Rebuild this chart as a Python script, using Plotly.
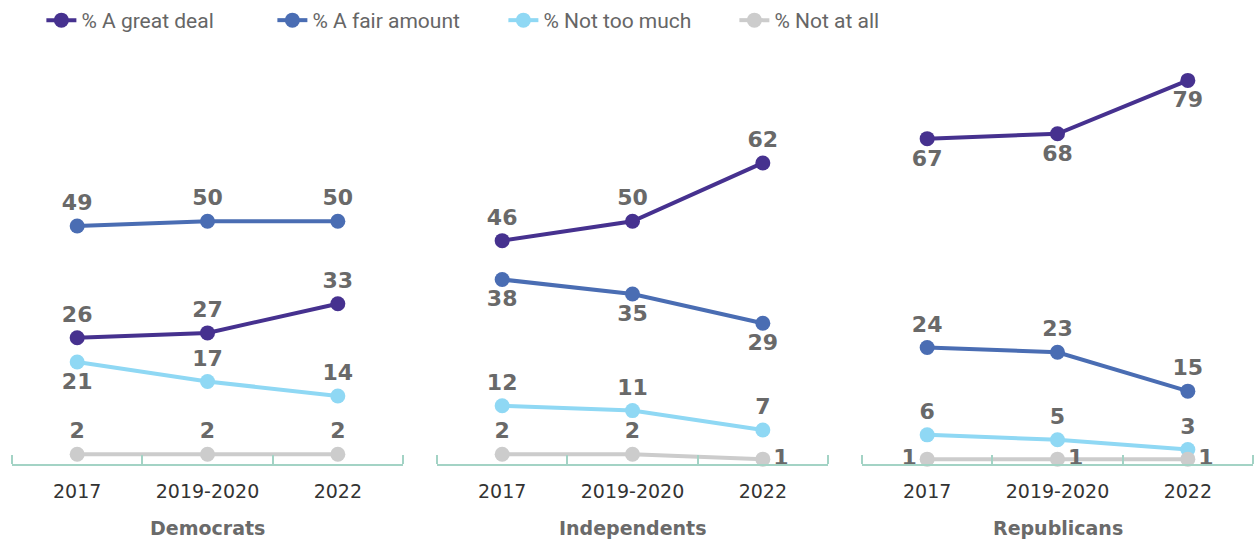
import plotly.graph_objects as go

years = ["2017", "2019-2020", "2022"]
parties = ["Democrats", "Independents", "Republicans"]
series = ["% A great deal", "% A fair amount", "% Not too much", "% Not at all"]
colors = ["#46318f", "#4a6db3", "#8fd8f4", "#cccccc"]

great_deal = {"Democrats": [26, 27, 33], "Independents": [46, 50, 62], "Republicans": [67, 68, 79]}
fair_amount = {"Democrats": [49, 50, 50], "Independents": [38, 35, 29], "Republicans": [24, 23, 15]}
not_too_much = {"Democrats": [21, 17, 14], "Independents": [12, 11, 7], "Republicans": [6, 5, 3]}
not_at_all = {"Democrats": [2, 2, 2], "Independents": [2, 2, 1], "Republicans": [1, 1, 1]}
values = [great_deal, fair_amount, not_too_much, not_at_all]

T, B, R, L = "top center", "bottom center", "middle right", "middle left"
label_pos = [
    {"Democrats": [T, T, T], "Independents": [T, T, T], "Republicans": [B, B, B]},
    {"Democrats": [T, T, T], "Independents": [B, B, B], "Republicans": [T, T, T]},
    {"Democrats": [B, T, T], "Independents": [T, T, T], "Republicans": [T, T, T]},
    {"Democrats": [T, T, T], "Independents": [T, T, R], "Republicans": [L, R, R]},
]

domains = [[12 / 1254, 403 / 1254], [437 / 1254, 828 / 1254], [862 / 1254, 1253 / 1254]]
axis_color = "#a3d3c5"
label_font = dict(family="DejaVu Sans", size=22, color="#696969", weight="bold")
y_max = 86.7

fig = go.Figure()
for p, party in enumerate(parties):
    suffix = "" if p == 0 else str(p + 1)
    for s, name in enumerate(series):
        vals = values[s][party]
        fig.add_trace(go.Scatter(
            x=years, y=vals, name=name,
            mode="lines+markers+text",
            text=[str(v) for v in vals],
            textposition=label_pos[s][party],
            textfont=label_font,
            line=dict(color=colors[s], width=4),
            marker=dict(color=colors[s], size=15),
            cliponaxis=False,
            showlegend=(p == 0),
            hoverinfo="skip",
            xaxis="x" + suffix, yaxis="y" + suffix,
        ))
    fig.add_annotation(
        text=party, x=sum(domains[p]) / 2, y=-0.152, xref="paper", yref="paper",
        xanchor="center", yanchor="middle", showarrow=False,
        font=dict(family="DejaVu Sans", size=19, color="#6a6a6a", weight="bold"),
    )
    # end ticks of each panel's axis
    for xd in domains[p]:
        fig.add_shape(
            type="line", xref="paper", yref="y" + suffix,
            x0=xd, x1=xd, y0=0, y1=9 * y_max / 424,
            line=dict(color=axis_color, width=2),
        )

layout_axes = {}
for p in range(3):
    suffix = "" if p == 0 else str(p + 1)
    layout_axes["xaxis" + suffix] = dict(
        domain=domains[p], type="category", range=[-0.5, 2.5],
        showgrid=False, zeroline=False, showline=True, linecolor=axis_color, linewidth=2,
        ticks="inside", tickson="boundaries", ticklen=9, tickcolor=axis_color, tickwidth=2,
        tickfont=dict(family="DejaVu Sans", size=19, color="#333333"),
        ticklabelstandoff=9,
        anchor="y" + suffix, fixedrange=True,
    )
    layout_axes["yaxis" + suffix] = dict(
        range=[0, y_max], visible=False, anchor="x" + suffix, fixedrange=True,
    )

fig.update_layout(
    width=1254, height=542,
    margin=dict(l=0, r=0, t=40, b=78),
    paper_bgcolor="white", plot_bgcolor="white",
    legend=dict(
        orientation="h", x=0.033, xanchor="left", y=1.054, yanchor="middle",
        font=dict(family="Roboto", size=21, color="#666666"),
        entrywidth=186, entrywidthmode="pixels", itemwidth=30,
    ),
    **layout_axes,
)

fig.write_html("out.html", config={"displayModeBar": False},
               post_script="document.body.style.margin='0';")
